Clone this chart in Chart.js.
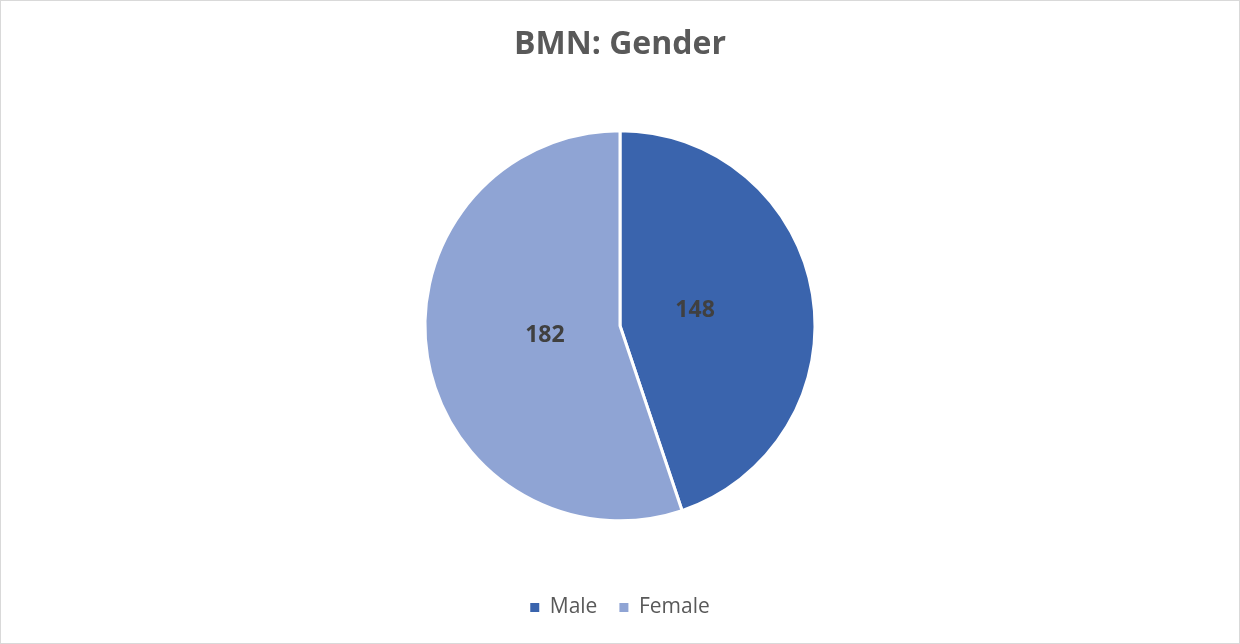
<!DOCTYPE html>
<html>
<head>
<meta charset="utf-8">
<script src="https://cdn.jsdelivr.net/npm/chart.js@4/dist/chart.umd.min.js"></script>
<style>
    body { margin: 0; background: #fff; }
    #wrap { width: 1240px; height: 644px; box-sizing: border-box; border: 1px solid #d9d9d9; position: relative; }
</style>
</head>
<body>
<div id="wrap"><canvas id="chart"></canvas></div>
<script>
const categories = ["Male", "Female"];
const counts = [148, 182];
const sliceColors = ["#3a64ad", "#8fa4d4"];

/* value labels inside slices */
const sliceLabels = {
    id: "sliceLabels",
    afterDatasetsDraw(chart) {
        const ctx = chart.ctx;
        const meta = chart.getDatasetMeta(0);
        ctx.save();
        ctx.font = "bold 23px 'Open Sans'";
        ctx.fillStyle = "#404040";
        ctx.textAlign = "center";
        ctx.textBaseline = "middle";
        meta.data.forEach((arc, i) => {
            const mid = (arc.startAngle + arc.endAngle) / 2;
            const r = arc.outerRadius * 0.39;
            ctx.fillText(counts[i], arc.x + Math.cos(mid) * r, arc.y + Math.sin(mid) * r - 3);
        });
        ctx.restore();
    }
};

let ctx = document.getElementById("chart").getContext("2d");

let chart = new Chart(ctx, {
    type: 'pie',
    data: {
        labels: categories,
        datasets: [{
            data: counts,
            backgroundColor: sliceColors,
            borderColor: "#ffffff",
            borderWidth: 3,
            radius: 195
        }]
    },
    options: {
        responsive: true,
        maintainAspectRatio: false,
        animation: false,
        layout: { padding: { top: 0, bottom: 15 } },
        plugins: {
            title: {
                display: true,
                text: "BMN: Gender",
                color: "#595959",
                font: { family: "Open Sans", size: 32, weight: "bold" },
                padding: { top: 25, bottom: 12 }
            },
            legend: {
                position: "bottom",
                labels: {
                    color: "#595959",
                    font: { family: "Open Sans", size: 21 },
                    boxWidth: 9,
                    boxHeight: 9,
                    padding: 22,
                    generateLabels: (c) => Chart.overrides.pie.plugins.legend.labels.generateLabels(c)
                        .map(l => Object.assign(l, { lineWidth: 0 }))
                }
            },
            tooltip: { enabled: false }
        }
    },
    plugins: [sliceLabels]
});
</script>
</body>
</html>
